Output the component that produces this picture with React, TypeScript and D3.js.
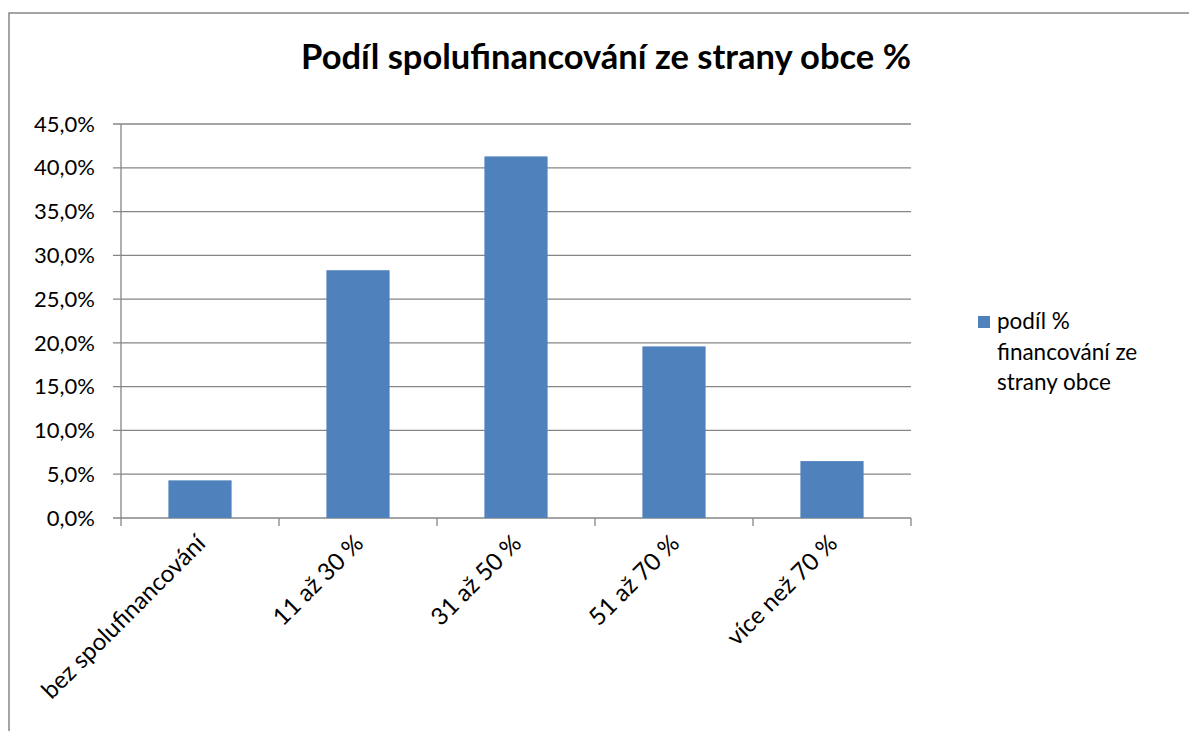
import React from 'react';
import * as d3 from 'd3';

const categories = ['bez spolufinancování', '11 až 30 %', '31 až 50 %', '51 až 70 %', 'více než 70 %'];
const shares = [4.3, 28.3, 41.3, 19.6, 6.5];
const yTicks = [0, 5, 10, 15, 20, 25, 30, 35, 40, 45];
const seriesName = ['podíl %', 'financování ze', 'strany obce'];
const title = 'Podíl spolufinancování ze strany obce %';

const W = 1189;
const H = 731;
const margin = { top: 124, right: 278, bottom: 213, left: 121 };
const FONT = 'Lato, "Open Sans", sans-serif';
const FS = 22;
const GRID = '#868686';
const BAR = '#4F81BD';

export default function App() {
  const plotW = W - margin.left - margin.right;
  const plotH = H - margin.top - margin.bottom;

  const x = d3.scaleBand<string>().domain(categories).range([0, plotW]).paddingInner(0.6).paddingOuter(0.3);
  const xEdge = d3.scaleBand<string>().domain(categories).range([0, plotW]).padding(0);
  const y = d3.scaleLinear().domain([0, 45]).range([plotH, 0]);
  const fmt = (v: number) => v.toFixed(1).replace('.', ',') + '%';

  return (
    <svg width={W} height={H} style={{ position: 'absolute', left: 0, top: 0, background: '#fff' }}>
      <rect x={9} y={13} width={W + 20} height={H + 20} fill="#fff" stroke={GRID} strokeWidth={1.5} />
      <text x={606} y={69} textAnchor="middle" fontFamily={FONT} fontWeight="bold" fontSize={34.5} fill="#000">
        {title}
      </text>
      <g transform={`translate(${margin.left},${margin.top})`}>
        {yTicks.map((t) => (
          <g key={t}>
            <line x1={-8} x2={plotW} y1={y(t)} y2={y(t)} stroke={GRID} strokeWidth={1.3} />
            <text x={-26} y={y(t)} dy="0.35em" textAnchor="end" fontFamily={FONT} fontSize={FS} fill="#000">
              {fmt(t)}
            </text>
          </g>
        ))}
        <line x1={0} x2={0} y1={0} y2={plotH} stroke={GRID} strokeWidth={1.3} />
        {categories.map((c) => (
          <line key={'t' + c} x1={xEdge(c)!} x2={xEdge(c)!} y1={plotH} y2={plotH + 8} stroke={GRID} strokeWidth={1.3} />
        ))}
        <line x1={plotW} x2={plotW} y1={plotH} y2={plotH + 8} stroke={GRID} strokeWidth={1.3} />
        {categories.map((c, i) => (
          <rect key={c} x={x(c)!} y={y(shares[i])} width={x.bandwidth()} height={plotH - y(shares[i])} fill={BAR} />
        ))}
        {categories.map((c) => {
          const cx = xEdge(c)! + xEdge.bandwidth() / 2 + 1;
          const cy = plotH + 21;
          return (
            <text key={'l' + c} transform={`translate(${cx},${cy}) rotate(-45)`} textAnchor="end" dy="0.35em"
              fontFamily={FONT} fontSize={24} fill="#000">
              {c}
            </text>
          );
        })}
      </g>
      <rect x={978} y={316} width={12} height={12} fill={BAR} />
      {seriesName.map((s, i) => (
        <text key={s} x={997} y={329 + i * 30.5} fontFamily={FONT} fontSize={FS + 0.5} fill="#000">
          {s}
        </text>
      ))}
    </svg>
  );
}
